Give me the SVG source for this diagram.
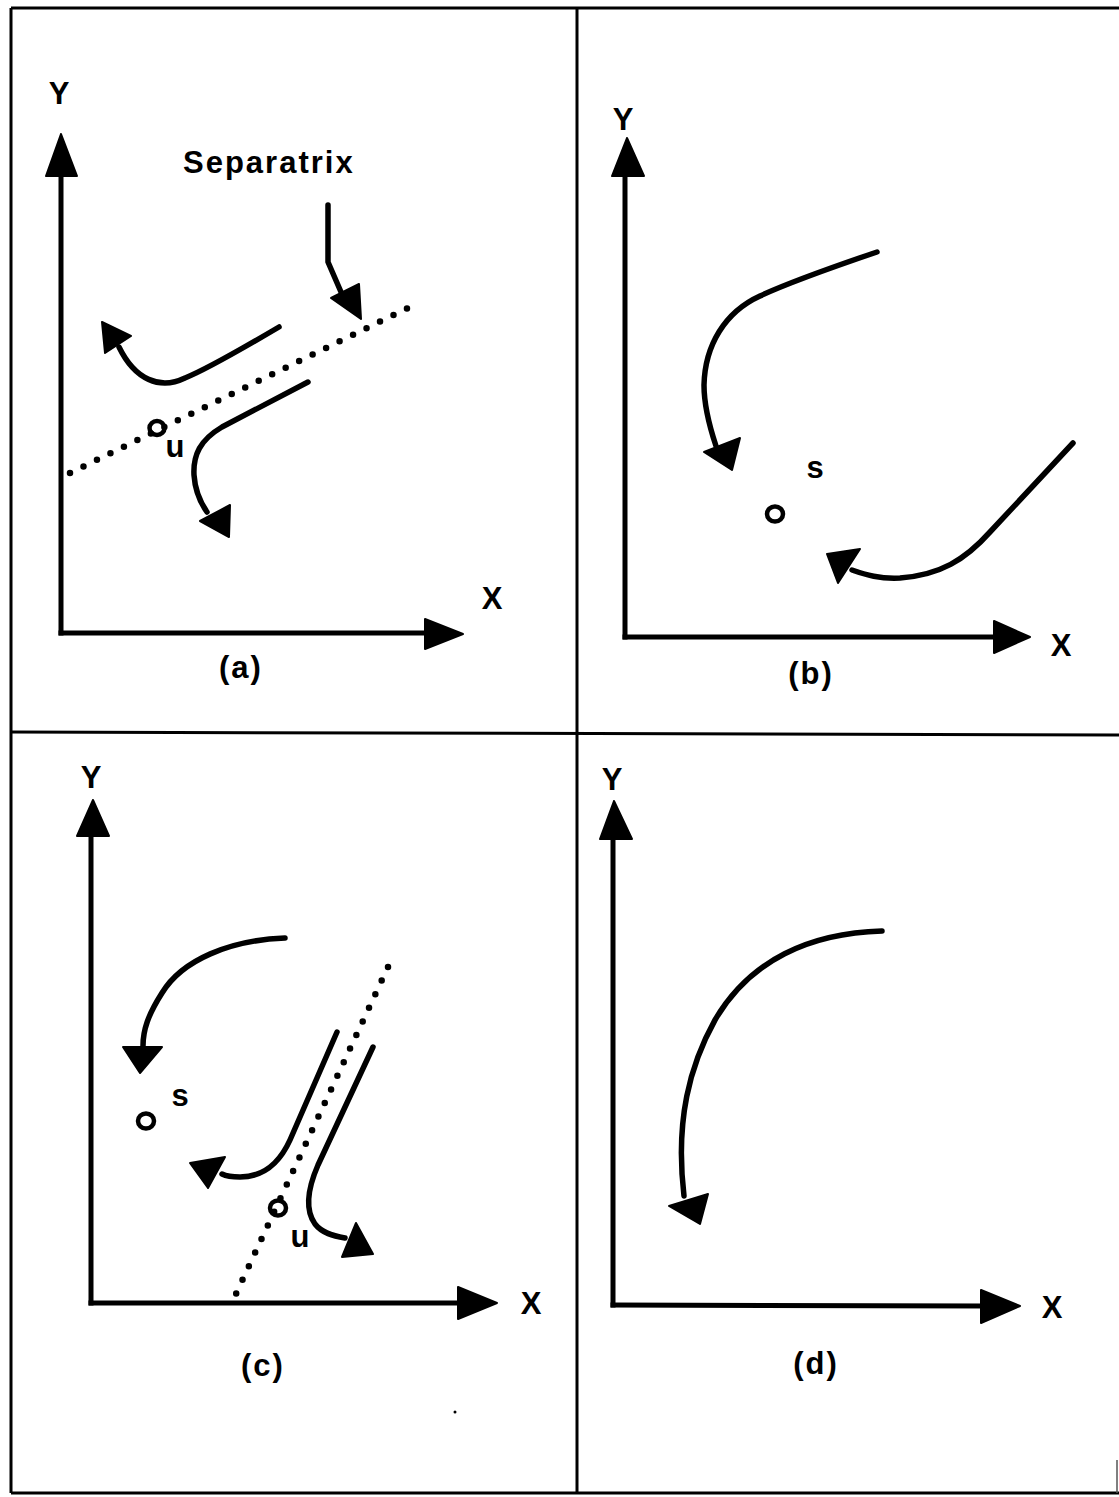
<svg xmlns="http://www.w3.org/2000/svg" width="1119" height="1497" viewBox="0 0 1119 1497">
<style>
.frame{stroke:#000;stroke-width:3;fill:none}
.axis{stroke:#000;stroke-width:5;fill:none;stroke-linecap:square}
.curve{stroke:#000;stroke-width:5.5;fill:none;stroke-linecap:round;stroke-linejoin:round}
.head{fill:#000;stroke:#000;stroke-width:2;stroke-linejoin:round}
.dots{stroke:#000;stroke-width:6.5;fill:none;stroke-linecap:round;stroke-dasharray:0 15}
.pt{fill:none;stroke:#000;stroke-width:4.5}
.lbl{font-family:"Liberation Sans",Arial,sans-serif;font-weight:bold;font-size:31px;fill:#000;letter-spacing:2px}
.mid{text-anchor:middle}
</style>
<rect width="1119" height="1497" fill="#fff"/>
<g id="frame">
<line class="frame" x1="11" y1="8" x2="1119" y2="8"/>
<line class="frame" x1="11" y1="8" x2="11" y2="1493"/>
<line class="frame" x1="577" y1="8" x2="577" y2="1493"/>
<line class="frame" x1="11" y1="732" x2="1119" y2="735"/>
<line class="frame" x1="11" y1="1493" x2="1119" y2="1493"/>
<line x1="1117" y1="1460" x2="1117" y2="1493" stroke="#555" stroke-width="1.5"/>
</g>
<g id="panel-a">
<g id="a-axes">
<line class="axis" x1="61" y1="633" x2="61" y2="172"/>
<polygon class="head" points="61,134 46,176 77,176"/>
<line class="axis" x1="61" y1="633" x2="428" y2="633"/>
<polygon class="head" points="463,634 425,619 425,649"/>
<text class="lbl mid" x="60" y="104">Y</text>
<text class="lbl mid" x="493" y="609">X</text>
<text class="lbl mid" x="241" y="678">(a)</text>
</g>
<g id="a-separatrix">
<line class="dots" x1="70" y1="473" x2="412" y2="306"/>
<text class="lbl" x="183" y="173" font-size="30" letter-spacing="3">Separatrix</text>
<path class="curve" d="M328,205 L328,262 L341,292"/>
<polygon class="head" points="331,298 359,284 361,319"/>
</g>
<g id="a-point">
<ellipse class="pt" cx="157" cy="428" rx="7.5" ry="7"/>
<text class="lbl mid" x="176" y="457">u</text>
</g>
<g id="a-flows">
<path class="curve" d="M279,327 C240,350 205,370 185,378 C160,390 135,380 119,347"/>
<polygon class="head" points="102,322 131,336 105,353"/>
<path class="curve" d="M308,382 L222,427 C200,440 193,455 194,475 C195,490 200,502 207,512"/>
<polygon class="head" points="229,537 200,521 230,505"/>
</g>
</g>
<g id="panel-b">
<g id="b-axes">
<line class="axis" x1="625" y1="637" x2="625" y2="174"/>
<polygon class="head" points="627,138 612,176 644,176"/>
<line class="axis" x1="625" y1="637" x2="996" y2="637"/>
<polygon class="head" points="1030,637 994,621 994,653"/>
<text class="lbl mid" x="624" y="130">Y</text>
<text class="lbl mid" x="1062" y="656">X</text>
<text class="lbl mid" x="811" y="684">(b)</text>
</g>
<g id="b-point">
<ellipse class="pt" cx="775" cy="514" rx="8" ry="7.5"/>
<text class="lbl mid" x="816" y="478">s</text>
</g>
<g id="b-flows">
<path class="curve" d="M877,252 C830,268 790,282 760,296 C725,312 705,345 704,385 C704,405 709,425 716,446"/>
<polygon class="head" points="704,452 740,438 732,470"/>
<path class="curve" d="M1073,443 L990,532 C965,560 940,575 900,578 C880,579 866,575 852,570"/>
<polygon class="head" points="827,554 860,549 838,583"/>
</g>
</g>
<g id="panel-c">
<g id="c-axes">
<line class="axis" x1="91" y1="1303" x2="91" y2="834"/>
<polygon class="head" points="93,800 77,836 109,836"/>
<line class="axis" x1="91" y1="1303" x2="460" y2="1303"/>
<polygon class="head" points="497,1303 458,1287 458,1319"/>
<text class="lbl mid" x="92" y="788">Y</text>
<text class="lbl mid" x="532" y="1314">X</text>
<text class="lbl mid" x="263" y="1376">(c)</text>
</g>
<g id="c-separatrix">
<line class="dots" x1="388" y1="967" x2="235" y2="1296"/>
</g>
<g id="c-points">
<ellipse class="pt" cx="146" cy="1121" rx="8" ry="7.5"/>
<text class="lbl mid" x="181" y="1106">s</text>
<ellipse class="pt" cx="278" cy="1208" rx="8" ry="7.5"/>
<text class="lbl mid" x="301" y="1247">u</text>
</g>
<g id="c-flows">
<path class="curve" d="M285,938 C230,940 182,960 162,993 C148,1015 143,1030 143,1046"/>
<polygon class="head" points="140,1073 123,1047 162,1047"/>
<path class="curve" d="M337,1032 L290,1140 C280,1162 265,1177 240,1177 C232,1177 226,1176 222,1174"/>
<polygon class="head" points="190,1163 225,1157 208,1188"/>
<path class="curve" d="M373,1047 L318,1165 C308,1188 305,1210 315,1224 C322,1233 333,1236 345,1238"/>
<polygon class="head" points="356,1223 373,1254 342,1257"/>
</g>
<circle cx="455" cy="1412" r="1.5" fill="#000"/>
</g>
<g id="panel-d">
<g id="d-axes">
<line class="axis" x1="613" y1="1305" x2="613" y2="837"/>
<polygon class="head" points="614,801 600,839 632,839"/>
<line class="axis" x1="613" y1="1305" x2="983" y2="1306"/>
<polygon class="head" points="1020,1306 981,1290 981,1323"/>
<text class="lbl mid" x="613" y="790">Y</text>
<text class="lbl mid" x="1053" y="1318">X</text>
<text class="lbl mid" x="816" y="1374">(d)</text>
</g>
<g id="d-flows">
<path class="curve" d="M882,931 C810,933 750,960 715,1020 C690,1065 675,1120 684,1196"/>
<polygon class="head" points="669,1206 708,1194 700,1224"/>
</g>
</g>
</svg>
